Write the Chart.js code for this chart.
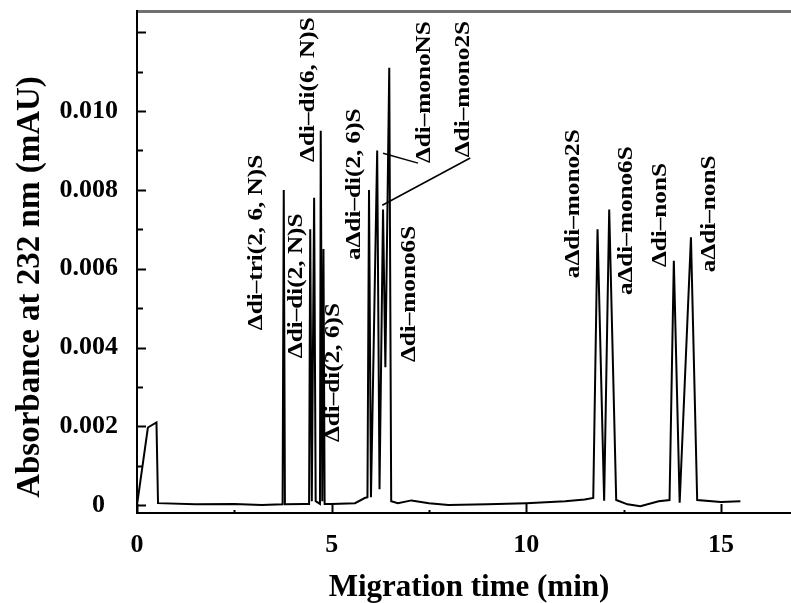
<!DOCTYPE html>
<html>
<head>
<meta charset="utf-8">
<script src="https://cdn.jsdelivr.net/npm/chart.js@4.4.1/dist/chart.umd.min.js"></script>
<style>
  html, body { margin: 0; padding: 0; background: #fff; overflow: hidden; }
  canvas { display: block; }
</style>
</head>
<body>
<canvas id="ceChart" width="791" height="603"></canvas>
<script>
// electropherogram trace
const timeMin = [
  0.00, 0.28, 0.50, 0.54, 1.50, 2.50, 3.20, 3.74, 3.77, 3.80,
  4.30, 4.42, 4.45, 4.49, 4.55, 4.59, 4.70, 4.72, 4.76, 4.79, 4.82,
  5.00, 5.60, 5.85, 5.92, 5.96, 6.01, 6.17, 6.23, 6.32, 6.38, 6.48, 6.53,
  6.70, 7.05, 7.50, 8.00, 9.00, 10.00, 11.00, 11.50, 11.72, 11.83, 12.00,
  12.13, 12.31, 12.60, 12.93, 13.40, 13.68, 13.79, 13.94, 14.23, 14.39,
  15.00, 15.50
];
const absorbance = [
  0.00000, 0.00197, 0.00210, 0.00005, 0.00002, 0.00003, 0.00000, 0.00002, 0.00800, 0.00002,
  0.00003, 0.00003, 0.00700, 0.00010, 0.00780, 0.00010, 0.00003, 0.00950, 0.00010, 0.00650, 0.00003,
  0.00003, 0.00005, 0.00018, 0.00020, 0.00800, 0.00020, 0.00900, 0.00040, 0.00750, 0.00350, 0.01110, 0.00010,
  0.00005, 0.00012, 0.00005, 0.00000, 0.00002, 0.00005, 0.00010, 0.00014, 0.00018, 0.00700, 0.00011,
  0.00750, 0.00013, 0.00002, -0.00003, 0.00010, 0.00013, 0.00620, 0.00006, 0.00680, 0.00013,
  0.00008, 0.00010
];

// peak annotations: text, x position (min), bottom end of the text (mAU)
const peakLabels = [
  'Δdi–tri(2, 6, N)S', 'Δdi–di(2, N)S', 'Δdi–di(6, N)S', 'Δdi–di(2, 6)S',
  'aΔdi–di(2, 6)S', 'Δdi–mono6S', 'Δdi–monoNS', 'Δdi–mono2S',
  'aΔdi–mono2S', 'aΔdi–mono6S', 'Δdi–nonS', 'aΔdi–nonS'
];
const labelTime = [3.06, 4.11, 4.42, 5.06, 5.58, 6.99, 7.38, 8.38, 11.21, 12.57, 13.44, 14.70];
const labelBase = [0.00444, 0.00373, 0.00871, 0.00160, 0.00622, 0.00363, 0.00868, 0.00883, 0.00576, 0.00533, 0.00604, 0.00591];

// leader lines for the two crowded labels
const leaderFromTime = [6.32, 6.30];
const leaderFromValue = [0.00893, 0.00761];
const leaderToTime = [7.22, 8.56];
const leaderToValue = [0.00868, 0.00881];

const xTickValues = [0, 2.5, 5, 7.5, 10, 12.5, 15];
const xTickLabels = ['0', '', '5', '', '10', '', '15'];
const yTickValues = [0, 0.001, 0.002, 0.003, 0.004, 0.005, 0.006, 0.007, 0.008, 0.009, 0.010, 0.011, 0.012];
const yTickLabels = ['0  ', '', '0.002', '', '0.004', '', '0.006', '', '0.008', '', '0.010', '', ''];

const serif = '"Liberation Serif", "Times New Roman", serif';

const decorations = {
  id: 'decorations',
  afterDraw(chart) {
    const { ctx, chartArea, scales: { x, y } } = chart;
    ctx.save();
    ctx.strokeStyle = '#000';
    ctx.fillStyle = '#000';

    // ticks point into the plot
    ctx.lineWidth = 2;
    yTickValues.forEach((v, i) => {
      const py = Math.round(y.getPixelForValue(v)) + 0.5;
      const len = i % 2 === 0 ? 9 : 6;
      ctx.beginPath();
      ctx.moveTo(chartArea.left, py);
      ctx.lineTo(chartArea.left + len, py);
      ctx.stroke();
    });
    xTickValues.forEach((v, i) => {
      const px = Math.round(x.getPixelForValue(v)) + 0.5;
      const len = i % 2 === 0 ? 9 : 3;
      ctx.beginPath();
      ctx.moveTo(px, chartArea.bottom);
      ctx.lineTo(px, chartArea.bottom - len);
      ctx.stroke();
    });

    // leader lines
    ctx.lineWidth = 1.5;
    leaderFromTime.forEach((t, i) => {
      ctx.beginPath();
      ctx.moveTo(x.getPixelForValue(t), y.getPixelForValue(leaderFromValue[i]));
      ctx.lineTo(x.getPixelForValue(leaderToTime[i]), y.getPixelForValue(leaderToValue[i]));
      ctx.stroke();
    });

    // vertical peak names
    ctx.font = 'bold 21px ' + serif;
    ctx.textAlign = 'left';
    ctx.textBaseline = 'middle';
    peakLabels.forEach((txt, i) => {
      ctx.save();
      ctx.translate(x.getPixelForValue(labelTime[i]), y.getPixelForValue(labelBase[i]));
      ctx.rotate(-Math.PI / 2);
      ctx.scale(1.2, 1);
      ctx.fillText(txt, 0, 0);
      ctx.restore();
    });

    // axis titles
    ctx.textAlign = 'center';
    ctx.font = 'bold 33px ' + serif;
    ctx.save();
    ctx.translate(30, 287);
    ctx.rotate(-Math.PI / 2);
    ctx.fillText('Absorbance at 232 nm (mAU)', 0, 0);
    ctx.restore();
    ctx.font = 'bold 31px ' + serif;
    ctx.fillText('Migration time (min)', 469, 588);
    ctx.restore();
  }
};

const ctx = document.getElementById('ceChart').getContext('2d');
const ceChart = new Chart(ctx, {
  type: 'scatter',
  data: {
    datasets: [{
      label: 'Absorbance',
      data: timeMin.map((t, i) => ({ x: t, y: absorbance[i] })),
      showLine: true,
      borderColor: '#000',
      borderWidth: 2,
      pointRadius: 0,
      tension: 0
    }]
  },
  options: {
    responsive: false,
    animation: false,
    devicePixelRatio: 1,
    layout: { padding: 0, autoPadding: false },
    plugins: { legend: { display: false }, tooltip: { enabled: false } },
    scales: {
      x: {
        type: 'linear',
        position: 'bottom',
        min: 0,
        max: 16.8,
        grid: { display: false },
        border: { color: '#000', width: 2 },
        afterBuildTicks: s => { s.ticks = xTickValues.map(v => ({ value: v })); },
        afterFit: s => { s.height = 90; s.paddingLeft = 0; s.paddingRight = 0; },
        ticks: {
          padding: 11,
          color: '#000',
          font: { family: serif, size: 26, weight: 'bold', lineHeight: 1 },
          maxRotation: 0,
          autoSkip: false,
          callback: (v, i) => xTickLabels[i]
        }
      },
      xTop: {
        type: 'linear',
        position: 'top',
        min: 0,
        max: 16.8,
        grid: { display: false },
        ticks: { display: false },
        border: { color: '#707070', width: 3 },
        afterFit: s => { s.height = 11; s.paddingLeft = 0; s.paddingRight = 0; }
      },
      y: {
        type: 'linear',
        min: -0.0002,
        max: 0.01254,
        grid: { display: false },
        border: { color: '#000', width: 2 },
        afterBuildTicks: s => { s.ticks = yTickValues.map(v => ({ value: v })); },
        afterFit: s => { s.width = 137; s.paddingTop = 0; s.paddingBottom = 0; },
        ticks: {
          padding: 11,
          color: '#000',
          font: { family: serif, size: 26, weight: 'bold', lineHeight: 1 },
          autoSkip: false,
          callback: (v, i) => yTickLabels[i]
        }
      }
    }
  },
  plugins: [decorations]
});
</script>
</body>
</html>
